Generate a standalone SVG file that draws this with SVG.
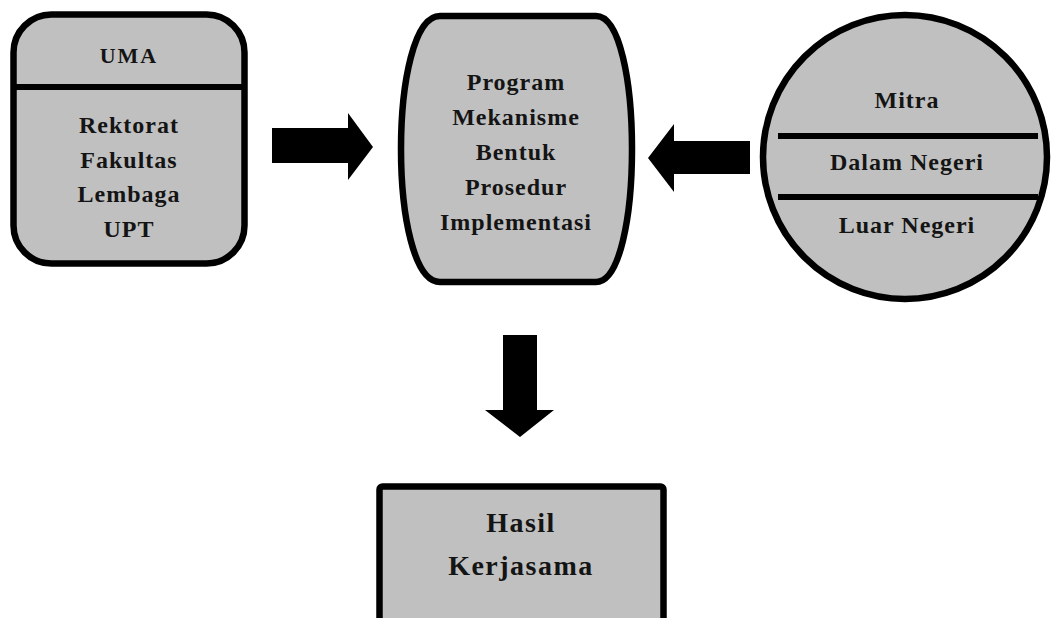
<svg xmlns="http://www.w3.org/2000/svg" width="1053" height="618" viewBox="0 0 1053 618">
<style>
.shape{fill:#c0c0c0;stroke:#000;stroke-width:6.5}
.div{stroke:#000;stroke-width:6}
.t{font-family:"Liberation Serif","Times New Roman",serif;font-weight:bold;fill:#141414;text-anchor:middle}
.s24{font-size:24px;letter-spacing:1px}
.s22{font-size:22px;letter-spacing:2px}
.s28{font-size:28px;letter-spacing:1.5px}
.arrow{fill:#000}
</style>
<rect width="1053" height="618" fill="#fff"/>
<g id="uma">
<rect class="shape" x="13.5" y="14.5" width="231" height="249" rx="38" ry="38"/>
<line class="div" x1="13" y1="87" x2="245" y2="87"/>
<text class="t s22" x="129" y="63">UMA</text>
<text class="t s24" x="129" y="133">Rektorat</text>
<text class="t s24" x="129" y="168">Fakultas</text>
<text class="t s24" x="129" y="202">Lembaga</text>
<text class="t s24" x="129" y="237">UPT</text>
</g>
<g id="program">
<path class="shape" d="M440,16 H596 C644,16 644,282 596,282 H440 C388,282 388,16 440,16 Z"/>
<text class="t s24" x="516" y="90">Program</text>
<text class="t s24" x="516" y="125">Mekanisme</text>
<text class="t s24" x="516" y="160">Bentuk</text>
<text class="t s24" x="516" y="195">Prosedur</text>
<text class="t s24" x="516" y="230">Implementasi</text>
</g>
<g id="mitra">
<circle class="shape" cx="905" cy="157" r="142"/>
<line class="div" x1="778" y1="136" x2="1038" y2="136"/>
<line class="div" x1="778" y1="197" x2="1038" y2="197"/>
<text class="t s24" x="907" y="108">Mitra</text>
<text class="t s24" x="907" y="170">Dalam Negeri</text>
<text class="t s24" x="907" y="233">Luar Negeri</text>
</g>
<g id="hasil">
<rect class="shape" x="379.5" y="486.5" width="284" height="160" rx="3" ry="3"/>
<text class="t s28" x="521" y="532">Hasil</text>
<text class="t s28" x="521" y="575">Kerjasama</text>
</g>
<g id="connectors">
<polygon class="arrow" points="272,128 348,128 348,113 373,147 348,180 348,163 272,163"/>
<polygon class="arrow" points="750,141 674,141 674,124 648,158 674,192 674,174 750,174"/>
<polygon class="arrow" points="503,335 537,335 537,410 554,410 520,437 485,410 503,410"/>
</g>
</svg>
